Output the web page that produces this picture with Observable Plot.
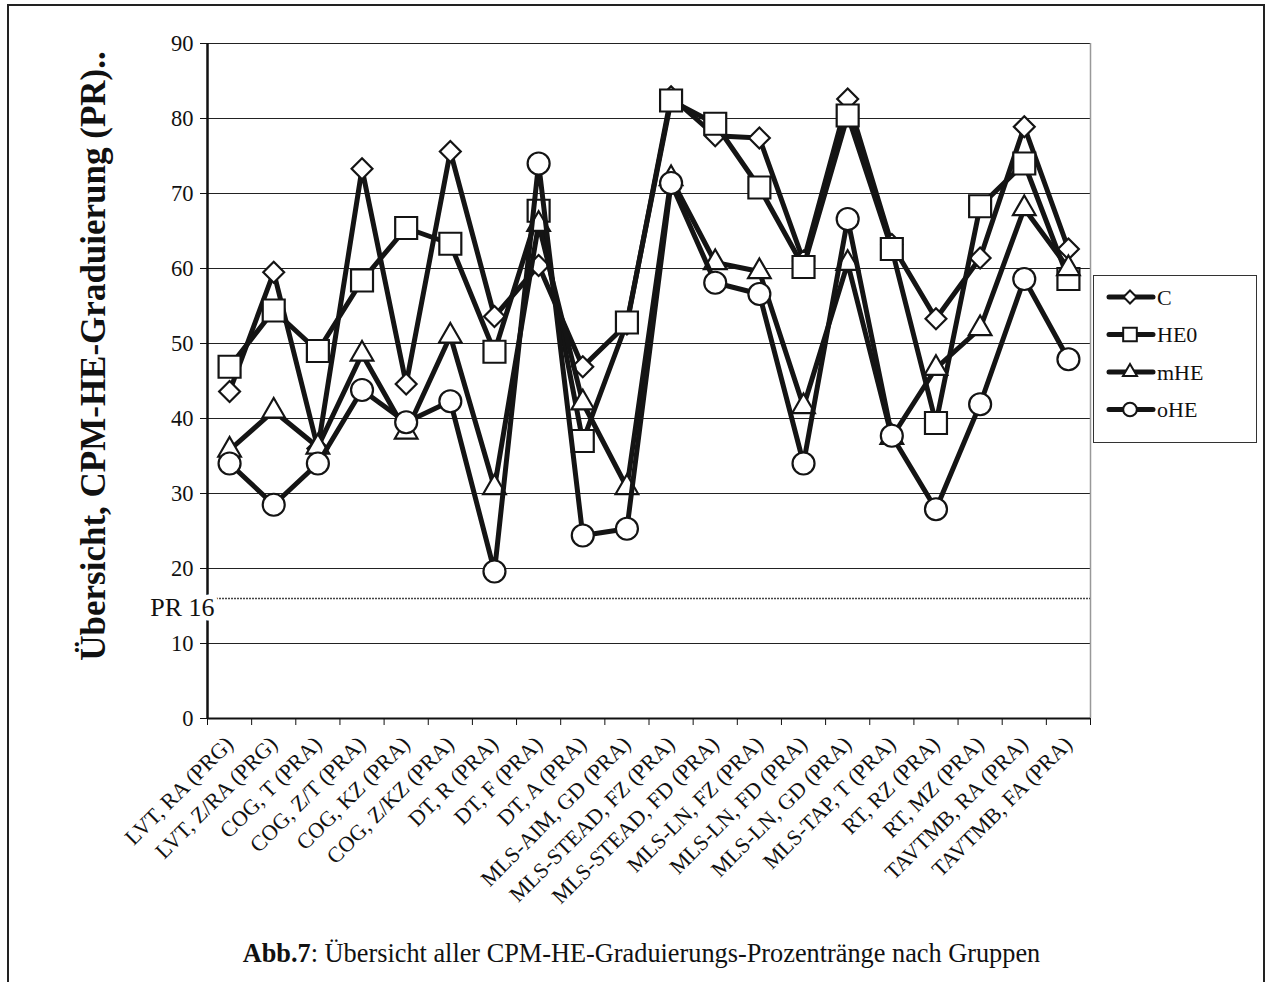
<!DOCTYPE html>
<html>
<head>
<meta charset="utf-8">
<script src="https://cdn.jsdelivr.net/npm/d3@7"></script>
<script src="https://cdn.jsdelivr.net/npm/@observablehq/plot@0.6"></script>
<style>
  body { margin: 0; background: #fff; }
  #page { position: relative; width: 1271px; height: 982px; overflow: hidden;
          font-family: "Liberation Serif", "Times New Roman", serif; color: #111; }
  #frame { position: absolute; left: 7px; top: 4px; width: 1254px; height: 1100px; border: 2px solid #222; }
  #chart { position: absolute; left: 0; top: 0; }
  #ylabel { position: absolute; left: 94px; top: 356px; transform: translate(-50%, -50%) rotate(-90deg);
            white-space: nowrap; font-weight: bold; font-size: 35px; }
  #legend { position: absolute; left: 1093px; top: 275px; }
  #caption { position: absolute; left: 6px; top: 939px; width: 1271px; text-align: center;
             font-size: 26.3px; line-height: 30px; }
</style>
</head>
<body>
<div id="page">
  <div id="frame"></div>
  <div id="chart"></div>
  <div id="ylabel">Übersicht, CPM-HE-Graduierung (PR)..</div>
  <div id="legend"></div>
  <div id="caption"><b>Abb.7</b>: Übersicht aller CPM-HE-Graduierungs-Prozentränge nach Gruppen</div>
</div>
<script>
// Test groups along the x axis
const categories = [
  "LVT, RA (PRG)", "LVT, Z/RA (PRG)", "COG, T (PRA)", "COG, Z/T (PRA)", "COG, KZ (PRA)",
  "COG, Z/KZ (PRA)", "DT, R (PRA)", "DT, F (PRA)", "DT, A (PRA)", "MLS-AIM, GD (PRA)",
  "MLS-STEAD, FZ (PRA)", "MLS-STEAD, FD (PRA)", "MLS-LN, FZ (PRA)", "MLS-LN, FD (PRA)",
  "MLS-LN, GD (PRA)", "MLS-TAP, T (PRA)", "RT, RZ (PRA)", "RT, MZ (PRA)",
  "TAVTMB, RA (PRA)", "TAVTMB, FA (PRA)"
];

// Percentile ranks per group
const valuesC   = [43.6, 59.5, 36.0, 73.3, 44.6, 75.6, 53.6, 60.4, 46.9, 52.6, 82.9, 77.7, 77.4, 61.0, 82.6, 63.2, 53.3, 61.4, 78.9, 62.6];
const valuesHE0 = [46.9, 54.4, 49.0, 58.4, 65.4, 63.3, 48.9, 67.7, 37.0, 52.8, 82.4, 79.3, 70.8, 60.2, 80.4, 62.6, 39.4, 68.3, 74.0, 58.6];
const valuesMHE = [35.8, 41.0, 36.2, 48.6, 38.2, 51.0, 30.8, 65.9, 42.1, 30.8, 72.0, 60.8, 59.6, 41.6, 60.7, 37.5, 46.7, 52.0, 68.0, 60.0];
const valuesOHE = [34.0, 28.5, 34.0, 43.8, 39.5, 42.3, 19.6, 74.0, 24.4, 25.3, 71.4, 58.1, 56.6, 34.0, 66.6, 37.7, 27.9, 41.9, 58.6, 47.9];

const seriesNames = ["C", "HE0", "mHE", "oHE"];
const seriesValues = [valuesC, valuesHE0, valuesMHE, valuesOHE];
const seriesSymbols = ["diamond2", "square", "triangle", "circle"];
const symbolRadius = {diamond2: 9.4, square: 12.4, triangle: 8.4, circle: 11};

const yTicks = d3.range(0, 91, 10);
const cutoff = 16;   // PR 16 reference line

// Long-format rows: one per group and series
const rows = [];
seriesNames.forEach((name, s) => {
  seriesValues[s].forEach((v, i) => rows.push({series: name, group: categories[i], i, value: v}));
});
const xPos = d => d.i + 0.5;

const seriesMarks = seriesNames.flatMap((name, s) => {
  const data = rows.filter(d => d.series === name);
  const sym = seriesSymbols[s];
  return [
    Plot.line(data, {x: xPos, y: "value", stroke: "#141414", strokeWidth: 5,
                     strokeLinejoin: "round", strokeLinecap: "round"}),
    Plot.dot(data, {x: xPos, y: "value", symbol: sym, r: symbolRadius[sym],
                    fill: "white", stroke: "#141414", strokeWidth: 2.2})
  ];
});

const chart = Plot.plot({
  width: 1271,
  height: 935,
  marginLeft: 207,
  marginRight: 181,
  marginTop: 43,
  marginBottom: 217,
  style: {fontFamily: "'Liberation Serif', 'Times New Roman', serif", color: "#111", background: "transparent"},
  x: {type: "linear", domain: [0, categories.length]},
  y: {type: "linear", domain: [0, 90]},
  marks: [
    Plot.ruleY(yTicks.filter(v => v > 0), {stroke: "#222", strokeWidth: 1}),
    Plot.ruleX([categories.length], {stroke: "#999", strokeWidth: 1.5}),
    Plot.ruleY([cutoff], {stroke: "#444", strokeWidth: 1.3, strokeDasharray: "2,1"}),
    Plot.axisY({ticks: yTicks, tickSize: 7, tickPadding: 7, fontSize: 22.5, label: null, stroke: "#111"}),
    Plot.axisX({ticks: d3.range(categories.length + 1), tickSize: 7, tickFormat: () => "", label: null, stroke: "#111"}),
    Plot.axisX({ticks: categories.map((_, i) => i + 0.5), tickFormat: v => categories[Math.round(v - 0.5)],
                tickSize: 0, tickPadding: 22, tickRotate: -45, fontSize: 22, label: null}),
    Plot.ruleX([0], {stroke: "#111", strokeWidth: 2.5}),
    Plot.ruleY([0], {stroke: "#111", strokeWidth: 2}),
    Plot.text([{v: cutoff, label: "PR " + cutoff}], {x: () => 0, y: "v", text: "label", textAnchor: "end",
               dx: 7, dy: 9, fontSize: 26, fill: "#111", stroke: "white", strokeWidth: 9, paintOrder: "stroke"}),
    ...seriesMarks
  ]
});
document.getElementById("chart").appendChild(chart);

// Legend box with line-and-marker samples
const lw = 164, lh = 168;
const legend = d3.select("#legend").append("svg").attr("width", lw).attr("height", lh)
  .style("font-family", "'Liberation Serif', 'Times New Roman', serif");
legend.append("rect").attr("x", 0.5).attr("y", 0.5).attr("width", lw - 1).attr("height", lh - 1)
  .attr("fill", "white").attr("stroke", "#333");
const symbolTypes = {diamond2: d3.symbolDiamond2, square: d3.symbolSquare, triangle: d3.symbolTriangle, circle: d3.symbolCircle};
seriesNames.forEach((name, s) => {
  const cy = 22 + s * 37.5;
  const g = legend.append("g").attr("transform", `translate(0,${cy})`);
  g.append("line").attr("x1", 16).attr("x2", 60).attr("stroke", "#141414").attr("stroke-width", 5)
    .attr("stroke-linecap", "round");
  const sym = seriesSymbols[s];
  const rr = symbolRadius[sym] * 0.62;
  g.append("path").attr("transform", "translate(37,0)")
    .attr("d", d3.symbol(symbolTypes[sym], Math.PI * rr * rr)())
    .attr("fill", "white").attr("stroke", "#141414").attr("stroke-width", 2);
  g.append("text").attr("x", 64).attr("dy", "0.35em").attr("font-size", 22).attr("fill", "#111").text(name);
});
</script>
</body>
</html>
